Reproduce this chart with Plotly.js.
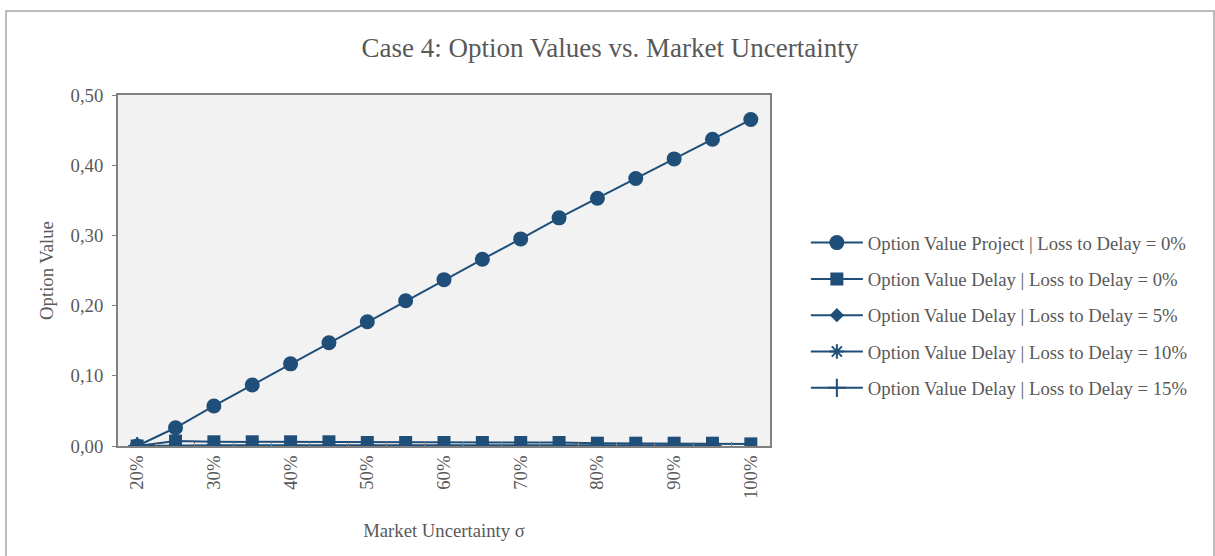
<!DOCTYPE html>
<html>
<head>
<meta charset="utf-8">
<script src="https://cdn.plot.ly/plotly-3.0.1.min.js"></script>
<style>html,body{margin:0;padding:0;background:#fff;}#chart{width:1215px;height:556px;}</style>
</head>
<body>
<div id="chart"></div>
<script>
const categories = ["20%","25%","30%","35%","40%","45%","50%","55%","60%","65%","70%","75%","80%","85%","90%","95%","100%"];
const tickLabels = ["20%","","30%","","40%","","50%","","60%","","70%","","80%","","90%","","100%"];
const projectLoss0 = [0.000,0.026,0.057,0.087,0.117,0.147,0.177,0.207,0.237,0.266,0.295,0.325,0.353,0.381,0.409,0.437,0.465];
const delayLoss0  = [0.000,0.007,0.006,0.006,0.006,0.006,0.005,0.005,0.005,0.005,0.005,0.005,0.004,0.004,0.004,0.004,0.003];
const delayLoss5  = [0.000,0.001,0.001,0.001,0.001,0.001,0.001,0.001,0.001,0.001,0.001,0.001,0.001,0.001,0.001,0.001,null];
const delayLoss10 = [0.000,0.000,0.000,0.000,0.000,0.000,0.000,0.000,0.000,0.000,0.000,0.000,0.000,0.000,0.000,0.000,null];
const delayLoss15 = [0.000,0.000,0.000,0.000,0.000,0.000,0.000,0.000,0.000,0.000,0.000,0.000,0.000,0.000,0.000,0.000,null];
const seriesNames = [
  "Option Value Project | Loss to Delay = 0%",
  "Option Value Delay | Loss to Delay = 0%",
  "Option Value Delay | Loss to Delay = 5%",
  "Option Value Delay | Loss to Delay = 10%",
  "Option Value Delay | Loss to Delay = 15%"
];

const blue = "#1f4e79";
const font = "Liberation Serif, Times New Roman, serif";
const txt = "#595959";
const fs = 18.7;

function tr(y, name, symbol, size, rank, lw) {
  return {
    x: categories, y: y, name: name, type: "scatter", mode: "lines+markers",
    line: {color: blue, width: 2},
    marker: {symbol: symbol, size: size, color: blue, line: {color: blue, width: lw}},
    legendgroup: "g" + rank, legendrank: rank, connectgaps: false
  };
}
const data = [
  tr(delayLoss15, seriesNames[4], "cross-thin-open", 13, 5, 2),
  tr(delayLoss10, seriesNames[3], "asterisk-open", 12, 4, 2),
  tr(delayLoss5, seriesNames[2], "diamond", 11, 3, 0),
  tr(delayLoss0, seriesNames[1], "square", 13, 2, 0),
  tr(projectLoss0, seriesNames[0], "circle", 15, 1, 0)
];

const layout = {
  width: 1215, height: 556,
  margin: {l: 118, r: 445, t: 95, b: 110},
  paper_bgcolor: "#ffffff",
  plot_bgcolor: "#f2f2f2",
  separators: ",.",
  font: {family: font, color: txt, size: fs},
  title: {text: "Case 4: Option Values vs. Market Uncertainty", font: {family: font, size: 27, color: txt},
          x: 0.502, xref: "container", y: 0.914, yref: "container", yanchor: "middle"},
  showlegend: true,
  legend: {x: 1.055, xanchor: "left", y: 0.372, yanchor: "middle", traceorder: "grouped",
           tracegroupgap: 9, itemwidth: 52, font: {family: font, size: fs, color: txt}, bgcolor: "rgba(0,0,0,0)"},
  xaxis: {
    type: "category", categoryorder: "array", categoryarray: categories,
    tickmode: "array", tickvals: categories, ticktext: tickLabels,
    tickson: "boundaries", ticks: "inside", ticklen: 4, tickcolor: "#808080",
    tickangle: -90, tickfont: {family: font, size: fs, color: txt},
    showgrid: false, zeroline: false,
    showline: true, linecolor: "#808080", linewidth: 2, mirror: true,
    range: [-0.5, 16.5],
    title: {text: "Market Uncertainty σ", font: {family: font, size: fs, color: txt}, standoff: 26},
    automargin: false
  },
  yaxis: {
    range: [0, 0.5], tickvals: [0, 0.1, 0.2, 0.3, 0.4, 0.5], tickformat: ".2f",
    ticks: "outside", ticklen: 4, tickcolor: "#808080", ticklabelstandoff: 5,
    tickfont: {family: font, size: fs, color: txt},
    showgrid: false, zeroline: false,
    showline: true, linecolor: "#808080", linewidth: 2, mirror: true,
    title: {text: "Option Value", font: {family: font, size: fs, color: txt}, standoff: 12},
    automargin: false
  },
  shapes: [{
    type: "rect", xref: "paper", yref: "paper",
    x0: (6 - 118) / 652, x1: (1214 - 118) / 652, y0: -0.4, y1: (446 - 11) / 351,
    line: {color: "#a6a6a6", width: 1.5}, fillcolor: "rgba(0,0,0,0)", layer: "below"
  }]
};

Plotly.newPlot("chart", data, layout, {displayModeBar: false, responsive: false});
</script>
</body>
</html>
